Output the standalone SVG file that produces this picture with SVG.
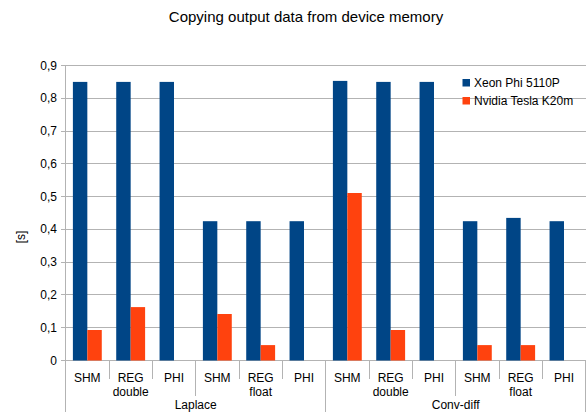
<svg xmlns="http://www.w3.org/2000/svg" width="588" height="412" viewBox="0 0 588 412">
<style>
text{font-family:"Liberation Sans",Arial,sans-serif;fill:#000}
.t{font-size:15px}
.ax{font-size:12px}
.grid line{stroke:#b3b3b3;stroke-width:1;shape-rendering:crispEdges}
.blue{fill:#004586}
.org{fill:#ff420e}
</style>
<rect width="588" height="412" fill="#fff"/>
<text class="t" x="306" y="22" text-anchor="middle">Copying output data from device memory</text>
<g id="grid" class="grid">
<line x1="60.5" y1="360.5" x2="585.7" y2="360.5"/>
<line x1="60.5" y1="327.7" x2="585.7" y2="327.7"/>
<line x1="60.5" y1="294.9" x2="585.7" y2="294.9"/>
<line x1="60.5" y1="262.2" x2="585.7" y2="262.2"/>
<line x1="60.5" y1="229.4" x2="585.7" y2="229.4"/>
<line x1="60.5" y1="196.6" x2="585.7" y2="196.6"/>
<line x1="60.5" y1="163.8" x2="585.7" y2="163.8"/>
<line x1="60.5" y1="131.1" x2="585.7" y2="131.1"/>
<line x1="60.5" y1="98.3" x2="585.7" y2="98.3"/>
<line x1="60.5" y1="65.5" x2="585.7" y2="65.5"/>
<line x1="65.7" y1="65.5" x2="65.7" y2="412"/>
<line x1="109" y1="360.5" x2="109" y2="379"/>
<line x1="152.3" y1="360.5" x2="152.3" y2="379"/>
<line x1="195.7" y1="360.5" x2="195.7" y2="396"/>
<line x1="239" y1="360.5" x2="239" y2="379"/>
<line x1="282.3" y1="360.5" x2="282.3" y2="379"/>
<line x1="325.7" y1="360.5" x2="325.7" y2="412"/>
<line x1="369" y1="360.5" x2="369" y2="379"/>
<line x1="412.3" y1="360.5" x2="412.3" y2="379"/>
<line x1="455.7" y1="360.5" x2="455.7" y2="396"/>
<line x1="499" y1="360.5" x2="499" y2="379"/>
<line x1="542.3" y1="360.5" x2="542.3" y2="379"/>
<line x1="585.7" y1="360.5" x2="585.7" y2="412"/>
</g>
<g id="yaxis" class="ax" text-anchor="end">
<text x="57" y="364.5">0</text>
<text x="57" y="331.7">0,1</text>
<text x="57" y="298.9">0,2</text>
<text x="57" y="266.2">0,3</text>
<text x="57" y="233.4">0,4</text>
<text x="57" y="200.6">0,5</text>
<text x="57" y="167.8">0,6</text>
<text x="57" y="135.1">0,7</text>
<text x="57" y="102.3">0,8</text>
<text x="57" y="69.5">0,9</text>
</g>
<text class="ax" transform="translate(25,237) rotate(-90)" text-anchor="middle">[s]</text>
<g id="series-xeon" class="blue">
<rect x="72.89" y="81.9" width="14.44" height="278.6"/>
<rect x="116.22" y="81.9" width="14.44" height="278.6"/>
<rect x="159.56" y="81.9" width="14.44" height="278.6"/>
<rect x="202.89" y="221.2" width="14.44" height="139.3"/>
<rect x="246.22" y="221.2" width="14.44" height="139.3"/>
<rect x="289.56" y="221.2" width="14.44" height="139.3"/>
<rect x="332.89" y="80.9" width="14.44" height="279.6"/>
<rect x="376.22" y="81.9" width="14.44" height="278.6"/>
<rect x="419.56" y="81.9" width="14.44" height="278.6"/>
<rect x="462.89" y="221.2" width="14.44" height="139.3"/>
<rect x="506.22" y="217.9" width="14.44" height="142.6"/>
<rect x="549.56" y="221.2" width="14.44" height="139.3"/>
</g>
<g id="series-nvidia" class="org">
<rect x="87.33" y="330" width="14.44" height="30.5"/>
<rect x="130.67" y="307.1" width="14.44" height="53.4"/>
<rect x="217.33" y="314" width="14.44" height="46.5"/>
<rect x="260.67" y="345.1" width="14.44" height="15.4"/>
<rect x="347.33" y="193" width="14.44" height="167.5"/>
<rect x="390.67" y="330" width="14.44" height="30.5"/>
<rect x="477.33" y="345.1" width="14.44" height="15.4"/>
<rect x="520.67" y="345.1" width="14.44" height="15.4"/>
</g>
<g id="xaxis" class="ax" text-anchor="middle">
<text x="87.3" y="382">SHM</text>
<text x="130.7" y="382">REG</text>
<text x="174" y="382">PHI</text>
<text x="217.3" y="382">SHM</text>
<text x="260.7" y="382">REG</text>
<text x="304" y="382">PHI</text>
<text x="347.3" y="382">SHM</text>
<text x="390.7" y="382">REG</text>
<text x="434" y="382">PHI</text>
<text x="477.3" y="382">SHM</text>
<text x="520.7" y="382">REG</text>
<text x="564" y="382">PHI</text>
<text x="130.7" y="396">double</text>
<text x="260.7" y="396">float</text>
<text x="390.7" y="396">double</text>
<text x="520.7" y="396">float</text>
<text x="195.7" y="409">Laplace</text>
<text x="455.7" y="409">Conv-diff</text>
</g>
<g id="legend" class="ax">
<rect class="blue" x="462.5" y="79" width="7.5" height="7.5"/>
<text x="474" y="87">Xeon Phi 5110P</text>
<rect class="org" x="462.5" y="97" width="7.5" height="7.5"/>
<text x="474" y="105">Nvidia Tesla K20m</text>
</g>
</svg>
